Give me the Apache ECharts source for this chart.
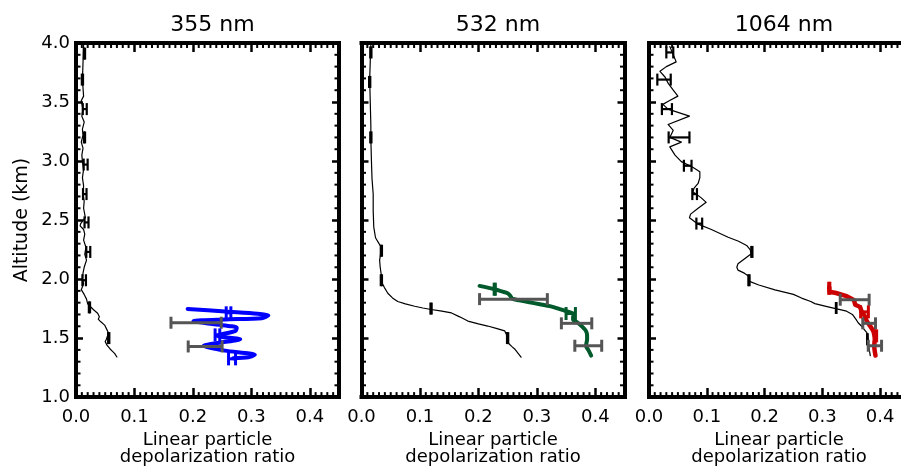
<!DOCTYPE html>
<html><head><meta charset="utf-8">
<script src="https://cdn.jsdelivr.net/npm/echarts@6/dist/echarts.min.js"></script>
<style>html,body{margin:0;padding:0;background:#fff;overflow:hidden;width:901px;height:471px}#c{width:930px;height:471px}</style>
</head><body><div id="c"></div>
<script>
// ---- data: [depolarization ratio, altitude km] ----
const panelTitles = ['355 nm', '532 nm', '1064 nm'];
const xTicks = [0, 0.1, 0.2, 0.3, 0.4];
const yTicks = [1.0, 1.5, 2.0, 2.5, 3.0, 3.5, 4.0];

const black355 = [[0.013,3.98],[0.012,3.83],[0.011,3.69],[0.013,3.55],[0.009,3.51],[0.012,3.44],[0.010,3.38],[0.014,3.33],[0.011,3.27],[0.012,3.22],[0.009,3.16],[0.012,3.11],[0.010,3.05],[0.011,2.995],[0.013,2.93],[0.011,2.86],[0.013,2.79],[0.012,2.72],[0.014,2.66],[0.013,2.60],[0.016,2.52],[0.008,2.47],[0.007,2.45],[0.013,2.42],[0.015,2.38],[0.013,2.33],[0.017,2.27],[0.015,2.21],[0.018,2.16],[0.014,2.10],[0.012,2.05],[0.011,2.00],[0.013,1.96],[0.009,1.91],[0.014,1.87],[0.018,1.83],[0.020,1.79],[0.024,1.77],[0.030,1.74],[0.037,1.71],[0.040,1.68],[0.038,1.66],[0.042,1.64],[0.049,1.61],[0.052,1.58],[0.055,1.55],[0.054,1.52],[0.052,1.49],[0.050,1.47],[0.053,1.44],[0.058,1.41],[0.062,1.39],[0.066,1.37],[0.070,1.34]];
const blackErr355 = [[0.0145,3.91,0.001],[0.011,3.69,0.001],[0.015,3.44,0.0034],[0.0145,3.20,0.001],[0.0165,2.97,0.0034],[0.015,2.72,0.003],[0.018,2.48,0.0034],[0.021,2.23,0.0034],[0.014,1.99,0.003],[0.023,1.76,0.001],[0.056,1.50,0.001]];
const blue355 = [[0.191,1.747],[0.255,1.725],[0.329,1.692],[0.318,1.669],[0.255,1.658],[0.201,1.644],[0.238,1.616],[0.275,1.588],[0.273,1.561],[0.241,1.519],[0.281,1.491],[0.249,1.463],[0.218,1.435],[0.255,1.394],[0.306,1.358],[0.295,1.338],[0.269,1.329]];
const blueErr355 = [[0.261,1.714,0.004],[0.242,1.527,0.004],[0.267,1.324,0.006]];
const grayErr355 = [[0.2055,1.630,0.043],[0.221,1.429,0.029]];

const black532 = [[0.016,3.98],[0.015,3.85],[0.014,3.69],[0.015,3.50],[0.016,3.30],[0.016,3.19],[0.017,3.00],[0.018,2.85],[0.020,2.72],[0.020,2.58],[0.021,2.44],[0.024,2.35],[0.030,2.30],[0.034,2.27],[0.033,2.22],[0.031,2.16],[0.032,2.10],[0.034,2.03],[0.034,1.98],[0.039,1.93],[0.045,1.88],[0.053,1.84],[0.062,1.81],[0.075,1.79],[0.091,1.77],[0.105,1.755],[0.119,1.742],[0.135,1.73],[0.154,1.713],[0.168,1.68],[0.182,1.644],[0.200,1.62],[0.216,1.602],[0.232,1.58],[0.245,1.561],[0.249,1.52],[0.250,1.463],[0.257,1.43],[0.262,1.408],[0.268,1.37],[0.273,1.338]];
const blackErr532 = [[0.016,3.92,0.001],[0.014,3.67,0.001],[0.016,3.20,0.001],[0.034,2.24,0.001],[0.034,1.99,0.001],[0.119,1.75,0.001],[0.250,1.50,0.001]];
const green532 = [[0.202,1.942],[0.228,1.914],[0.240,1.895],[0.250,1.880],[0.255,1.855],[0.258,1.834],[0.270,1.82],[0.285,1.805],[0.305,1.787],[0.324,1.769],[0.338,1.748],[0.350,1.728],[0.364,1.700],[0.362,1.678],[0.362,1.658],[0.370,1.630],[0.378,1.595],[0.384,1.561],[0.386,1.52],[0.386,1.491],[0.385,1.46],[0.384,1.435],[0.388,1.40],[0.393,1.352]];
const greenErr532 = [[0.228,1.914,0.001],[0.358,1.708,0.008]];
const grayErr532 = [[0.260,1.830,0.058],[0.368,1.625,0.026],[0.388,1.435,0.023]];

const black1064 = [[0.036,3.97],[0.042,3.90],[0.047,3.84],[0.030,3.80],[0.019,3.76],[0.028,3.71],[0.033,3.66],[0.042,3.60],[0.050,3.55],[0.035,3.51],[0.024,3.48],[0.033,3.44],[0.070,3.38],[0.033,3.31],[0.042,3.26],[0.036,3.20],[0.056,3.16],[0.036,3.12],[0.045,3.05],[0.056,2.995],[0.075,2.95],[0.088,2.91],[0.088,2.86],[0.085,2.81],[0.078,2.77],[0.076,2.74],[0.090,2.69],[0.099,2.65],[0.085,2.60],[0.072,2.55],[0.070,2.52],[0.085,2.465],[0.108,2.42],[0.137,2.354],[0.155,2.32],[0.169,2.285],[0.175,2.25],[0.177,2.215],[0.165,2.17],[0.154,2.13],[0.152,2.10],[0.154,2.076],[0.165,2.05],[0.174,2.02],[0.174,1.98],[0.190,1.95],[0.218,1.909],[0.250,1.87],[0.264,1.839],[0.280,1.81],[0.287,1.792],[0.310,1.765],[0.325,1.747],[0.342,1.728],[0.352,1.70],[0.358,1.66],[0.362,1.63],[0.368,1.60],[0.377,1.546],[0.379,1.49],[0.380,1.435],[0.383,1.352]];
const blackErr1064 = [[0.036,3.92,0.006],[0.026,3.69,0.0116],[0.031,3.44,0.0087],[0.052,3.20,0.018],[0.067,2.96,0.0066],[0.079,2.72,0.004],[0.087,2.47,0.005],[0.178,2.23,0.001],[0.173,1.99,0.001],[0.324,1.755,0.0005],[0.378,1.49,0.0005]];
const red1064 = [[0.312,1.931],[0.313,1.895],[0.325,1.88],[0.339,1.859],[0.348,1.84],[0.354,1.825],[0.356,1.80],[0.357,1.783],[0.365,1.764],[0.367,1.74],[0.369,1.713],[0.373,1.69],[0.377,1.644],[0.383,1.60],[0.388,1.561],[0.390,1.525],[0.391,1.491],[0.390,1.45],[0.390,1.42],[0.392,1.352]];
const redErr1064 = [[0.312,1.922,0.001],[0.373,1.722,0.0067],[0.392,1.519,0.002]];
const grayErr1064 = [[0.356,1.825,0.025],[0.381,1.625,0.011],[0.391,1.435,0.0115]];

// ---- axis ranges / minor tick values ----
const XMAX = 0.45, YMIN = yTicks[0], YMAX = yTicks[yTicks.length-1];
const xMinorTicks = []; for (let k = 1; k < 45; k++) if (k % 10) xMinorTicks.push(+(k*0.01).toFixed(2));
const yMinorTicks = []; for (let k = 11; k < 40; k++) if (k % 5) yMinorTicks.push(+(k*0.1).toFixed(1));

// ---- layout ----
const FONT = 'DejaVu Sans';
const grids = [{left:76, top:43, width:263, height:359},{left:361.5, top:43, width:263, height:359},{left:649, top:43, width:260, height:359}];

const xAxes = [], yAxes = [];
grids.forEach((g, i) => {
  const frame = {show:true, onZero:false, lineStyle:{color:'#000', width:4, cap:'square'}};
  const base = {type:'value', gridIndex:i, min:0, max:XMAX, interval:xTicks[1]-xTicks[0], splitLine:{show:false},
    axisLine:frame, axisTick:{show:true, inside:true, length:9, lineStyle:{color:'#000', width:2.5}}};
  xAxes.push(Object.assign({}, base, {position:'bottom',
    axisLabel:{show:true, margin:11, showMaxLabel:false, fontFamily:FONT, fontSize:18, color:'#000', formatter:v=>v.toFixed(1)},
    name:'Linear particle\ndepolarization ratio', nameLocation:'middle', nameGap:32,
    nameTextStyle:{fontFamily:FONT, fontSize:18, color:'#000', lineHeight:17, verticalAlign:'top'}}));
  xAxes.push(Object.assign({}, base, {position:'top', axisLabel:{show:false}}));
  const ybase = {type:'value', gridIndex:i, min:YMIN, max:YMAX, interval:0.5, splitLine:{show:false},
    axisLine:frame, axisTick:{show:true, inside:true, length:7, lineStyle:{color:'#000', width:2.5}}};
  yAxes.push(Object.assign({}, ybase, {position:'left',
    axisLabel:{show:i===0, margin:6, fontFamily:FONT, fontSize:18, color:'#000', formatter:v=>v.toFixed(1)},
    name: i===0 ? 'Altitude (km)' : '', nameLocation:'middle', nameGap:44,
    nameTextStyle:{fontFamily:FONT, fontSize:19, color:'#000'}}));
  yAxes.push(Object.assign({}, ybase, {position:'right', axisLabel:{show:false}}));
});

function lineSeries(panel, data, color, width, smooth){
  return {type:'line', xAxisIndex:panel*2, yAxisIndex:panel*2, data:data, showSymbol:false, symbol:'none',
    smooth:smooth, lineStyle:{color:color, width:width, cap:'round', join:'round'}, silent:true, z:2};
}
function errSeries(panel, data, color, width, capHalf){
  return {type:'custom', xAxisIndex:panel*2, yAxisIndex:panel*2, data:data, silent:true, z:3,
    encode:{x:0, y:1},
    renderItem:function(params, api){
      const x = api.value(0), y = api.value(1), e = api.value(2);
      const a = api.coord([x-e, y]), b = api.coord([x+e, y]);
      const st = {stroke:color, lineWidth:width};
      return {type:'group', children:[
        {type:'line', shape:{x1:a[0], y1:a[1], x2:b[0], y2:b[1]}, style:st},
        {type:'line', shape:{x1:a[0], y1:a[1]-capHalf, x2:a[0], y2:a[1]+capHalf}, style:st},
        {type:'line', shape:{x1:b[0], y1:b[1]-capHalf, x2:b[0], y2:b[1]+capHalf}, style:st}
      ]};
    }};
}
// minor ticks on all four sides, positioned through the axes' own scales
function minorXSeries(panel){
  return {type:'custom', xAxisIndex:panel*2, yAxisIndex:panel*2, silent:true, clip:false, z:5,
    data:xMinorTicks.map(v=>[v, YMIN]), encode:{x:0, y:1},
    renderItem:function(params, api){
      const v = api.value(0), b = api.coord([v, YMIN]), t = api.coord([v, YMAX]);
      return {type:'group', children:[
        {type:'rect', shape:{x:b[0]-1, y:b[1]-5, width:2, height:5}, style:{fill:'#000'}},
        {type:'rect', shape:{x:t[0]-1, y:t[1], width:2, height:5}, style:{fill:'#000'}}]};
    }};
}
function minorYSeries(panel){
  return {type:'custom', xAxisIndex:panel*2, yAxisIndex:panel*2, silent:true, clip:false, z:5,
    data:yMinorTicks.map(v=>[0, v]), encode:{x:0, y:1},
    renderItem:function(params, api){
      const v = api.value(1), l = api.coord([0, v]), r = api.coord([XMAX, v]);
      return {type:'group', children:[
        {type:'rect', shape:{x:l[0], y:l[1]-1, width:4.5, height:2}, style:{fill:'#000'}},
        {type:'rect', shape:{x:r[0]-4.5, y:r[1]-1, width:4.5, height:2}, style:{fill:'#000'}}]};
    }};
}

const GRAY = '#555555';
const series = [
  lineSeries(0, black355, '#000', 1.2, false),
  errSeries(0, blackErr355, '#000', 2.2, 6),
  errSeries(0, grayErr355, GRAY, 3, 6),
  lineSeries(0, blue355, '#0000ff', 4, 0.25),
  errSeries(0, blueErr355, '#0000ff', 3, 6.5),

  lineSeries(1, black532, '#000', 1.2, false),
  errSeries(1, blackErr532, '#000', 2.2, 6),
  errSeries(1, grayErr532, GRAY, 3, 6),
  lineSeries(1, green532, '#005a2b', 4, 0.3),
  errSeries(1, greenErr532, '#005a2b', 3, 6.5),

  lineSeries(2, black1064, '#000', 1.2, false),
  errSeries(2, blackErr1064, '#000', 2.2, 6),
  errSeries(2, grayErr1064, GRAY, 3, 6),
  lineSeries(2, red1064, '#cc0000', 4.5, 0.2),
  errSeries(2, redErr1064, '#cc0000', 3, 6.5)
];
[0,1,2].forEach(p => { series.push(minorXSeries(p)); series.push(minorYSeries(p)); });

const titles = panelTitles.map((t, i) => ({
  text:t, left: grids[i].left + grids[i].width/2, top:9, textAlign:'center',
  textStyle:{fontFamily:FONT, fontSize:22, fontWeight:'normal', color:'#000'}
}));

const chart = echarts.init(document.getElementById('c'), null, {renderer:'canvas'});
chart.setOption({
  animation:false,
  backgroundColor:'#fff',
  title:titles,
  grid:grids,
  xAxis:xAxes,
  yAxis:yAxes,
  series:series
});
</script></body></html>
